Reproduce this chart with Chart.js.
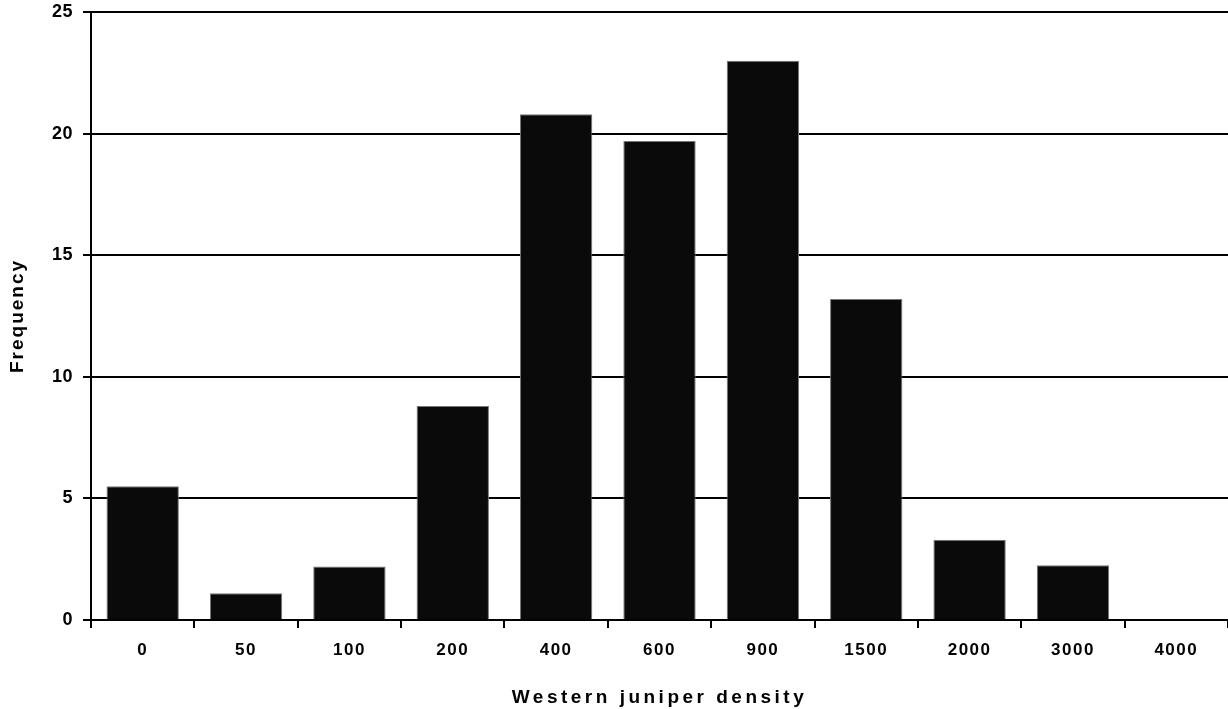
<!DOCTYPE html>
<html>
<head>
<meta charset="utf-8">
<script src="https://cdn.jsdelivr.net/npm/chart.js@4"></script>
<style>
  html, body { margin: 0; padding: 0; background: #fff; }
  #wrap { width: 1228px; height: 709px; }
</style>
</head>
<body>
<div id="wrap"><canvas id="densityChart" width="1228" height="709"></canvas></div>
<script>
const densityLabels = ['0', '50', '100', '200', '400', '600', '900', '1500', '2000', '3000', '4000'];
const frequencies = [5.5, 1.1, 2.2, 8.8, 20.8, 19.7, 23.0, 13.2, 3.3, 2.25, 0];
const yTicks = [0, 5, 10, 15, 20, 25];

const FONT = 'Liberation Sans, Arial, sans-serif';

// the scanned text is spread out, so add letter spacing per part of each scale
function spaced(fn, spacing) {
    return function() {
        const c = this.ctx;
        const old = c.letterSpacing;
        c.letterSpacing = spacing;
        fn.apply(this, arguments);
        c.letterSpacing = old;
    };
}

const spacingPlugin = {
    id: 'spacing',
    beforeDraw(chart) {
        Object.values(chart.scales).forEach(scale => {
            if (scale._spaced) return;
            scale.drawTitle = spaced(scale.drawTitle, scale.axis === 'x' ? '3.5px' : '2px');
            scale.drawLabels = spaced(scale.drawLabels, scale.axis === 'x' ? '1.5px' : '0.5px');
            scale._spaced = true;
        });
    }
};

const ctx = document.getElementById('densityChart').getContext('2d');
new Chart(ctx, {
    type: 'bar',
    data: {
        labels: densityLabels,
        datasets: [{
            label: 'Frequency',
            data: frequencies,
            backgroundColor: '#0a0a0a',
            borderColor: '#777',
            borderWidth: 1,
            barPercentage: 0.7,
            categoryPercentage: 1.0
        }]
    },
    options: {
        responsive: false,
        animation: false,
        layout: { padding: { top: 12, right: 0, left: 0, bottom: 0 } },
        plugins: {
            legend: { display: false },
            tooltip: { enabled: false }
        },
        scales: {
            x: {
                offset: true,
                grid: {
                    display: true,
                    drawOnChartArea: false,
                    drawTicks: true,
                    tickLength: 8,
                    color: '#000',
                    lineWidth: 2,
                    offset: true
                },
                border: { display: true, color: '#000', width: 2 },
                ticks: {
                    color: '#000',
                    padding: 12,
                    maxRotation: 0,
                    font: { family: FONT, size: 17, weight: 'bold' }
                },
                title: {
                    display: true,
                    text: 'Western juniper density',
                    color: '#000',
                    padding: { top: 12, bottom: 0 },
                    font: { family: FONT, size: 19, weight: 'bold' }
                },
                afterFit(scale) {
                    scale.height = 89;
                    scale.paddingLeft = 0;
                    scale.paddingRight = 0;
                }
            },
            y: {
                min: 0,
                max: 25,
                afterBuildTicks(scale) {
                    scale.ticks = yTicks.map(v => ({ value: v }));
                },
                grid: {
                    color: '#000',
                    lineWidth: 2,
                    drawTicks: true,
                    tickLength: 8
                },
                border: { display: true, color: '#000', width: 2 },
                ticks: {
                    color: '#000',
                    padding: 10,
                    font: { family: FONT, size: 18, weight: 'bold' }
                },
                title: {
                    display: true,
                    text: 'Frequency',
                    color: '#000',
                    padding: { top: 6, bottom: 0 },
                    font: { family: FONT, size: 19, weight: 'bold' }
                },
                afterFit(scale) {
                    scale.width = 91;
                    scale.paddingTop = 0;
                    scale.paddingBottom = 0;
                }
            }
        }
    },
    plugins: [spacingPlugin]
});
</script>
</body>
</html>
